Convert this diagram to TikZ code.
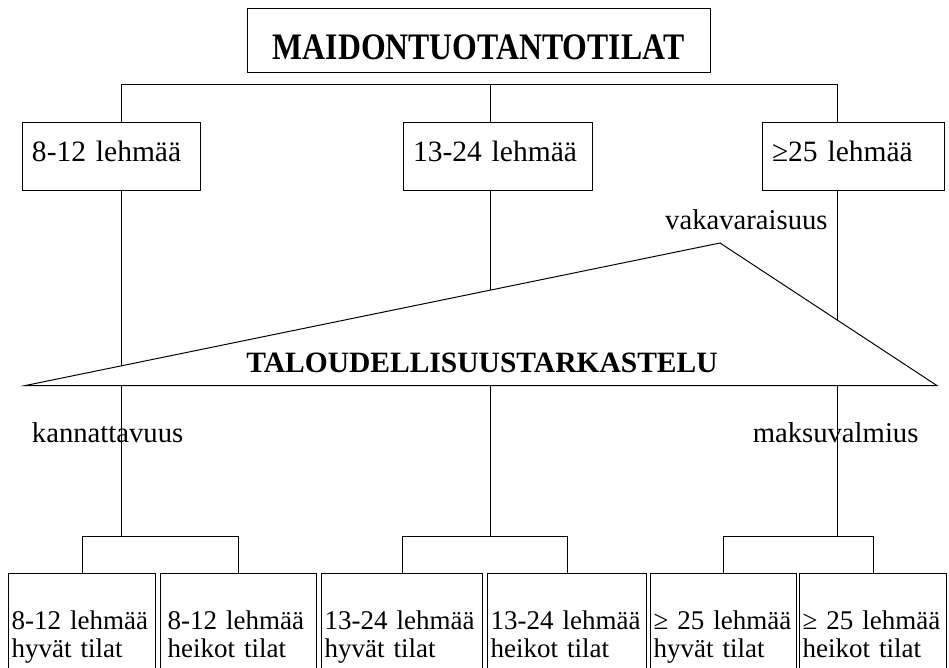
\documentclass[tikz,border=0pt]{standalone}
\usepackage{fontspec}
\setmainfont{Liberation Serif}
\newfontfamily\titlefont[FakeStretch=0.85]{Liberation Serif}
\usetikzlibrary{positioning, calc}

\begin{document}
\begin{tikzpicture}[line width=0.6pt,
    grpbox/.style={draw, rectangle, minimum height=1.7cm, inner xsep=0.25cm, align=left, font=\fontsize{21}{24}\selectfont, text height=14pt, text depth=6pt},
    farmbox/.style={draw, rectangle, anchor=north west, minimum height=3.15cm, inner xsep=0.08cm, align=left, font=\fontsize{19.2}{20}\selectfont, text height=14pt, text depth=24pt},
    lbl/.style={anchor=base, font=\fontsize{20.4}{24}\selectfont}]
    \clip (0,0) rectangle (23.725,-16.675);

    \node[draw, rectangle, minimum width=11.575cm, minimum height=1.6cm, inner sep=2pt, text height=28pt, text depth=0pt, font=\titlefont\fontsize{26.6}{30}\selectfont\bfseries] (title) at (11.9625,-1.0) {MAIDONTUOTANTOTILAT};

    \node[grpbox, text width=3.95cm] (g1) at (2.775,-3.9) {8-12 lehmää};
    \node[grpbox, text width=4.225cm] (g2) at (12.4375,-3.9) {13-24 lehmää};
    \node[grpbox, text width=4.05cm] (g3) at (21.325,-3.9) {≥25 lehmää};

    \node[farmbox, text width=3.515cm] (h1) at (0.2,-14.325) {\mbox{8-12 lehmää}\\\mbox{hyvät tilat}};
    \node[farmbox, text width=3.54cm, inner xsep=0.18cm] (h2) at (4.0,-14.325) {\mbox{8-12 lehmää}\\\mbox{heikot tilat}};
    \node[farmbox, text width=3.865cm] (h3) at (8.025,-14.325) {\mbox{13-24 lehmää}\\\mbox{hyvät tilat}};
    \node[farmbox, text width=3.815cm] (h4) at (12.175,-14.325) {\mbox{13-24 lehmää}\\\mbox{heikot tilat}};
    \node[farmbox, text width=3.49cm] (h5) at (16.25,-14.325) {\mbox{≥ 25 lehmää}\\\mbox{hyvät tilat}};
    \node[farmbox, text width=3.515cm] (h6) at (19.975,-14.325) {\mbox{≥ 25 lehmää}\\\mbox{heikot tilat}};

    % branch points
    \coordinate (s1) at (3.025,-2.1);
    \coordinate (s2) at (12.25,-2.1);
    \coordinate (s3) at (20.925,-2.1);
    \coordinate (j1) at (3.025,-13.4);
    \coordinate (j2) at (12.25,-13.4);
    \coordinate (j3) at (20.925,-13.4);

    \draw (s1) -- (s3);
    \draw (s1) -- (s1 |- g1.north);
    \draw (s2) -- (s2 |- g2.north);
    \draw (s3) -- (s3 |- g3.north);
    \draw (s1 |- g1.south) -- (j1);
    \draw (s2 |- g2.south) -- (j2);
    \draw (s3 |- g3.south) -- (j3);
    \draw (h1.north) |- (j1) -| (h2.north);
    \draw (h3.north) |- (j2) -| (h4.north);
    \draw (h5.north) |- (j3) -| (h6.north);

    % triangle over the lines
    \coordinate (tl) at (0.625,-9.64);
    \coordinate (tt) at (18.0,-6.075);
    \coordinate (tr) at (23.425,-9.64);
    \draw[fill=white, line width=0.7pt] (tl) -- (tt) -- (tr) -- cycle;
    \node[anchor=base, font=\fontsize{21}{24}\selectfont\bfseries] (talous) at (12.05,-9.3) {TALOUDELLISUUSTARKASTELU};

    \node[lbl] (vaka) at (18.66,-5.725) {vakavaraisuus};
    \node[lbl] (kann) at (2.69,-11.05) {kannattavuus};
    \node[lbl] (maks) at (20.89,-11.05) {maksuvalmius};
\end{tikzpicture}
\end{document}
